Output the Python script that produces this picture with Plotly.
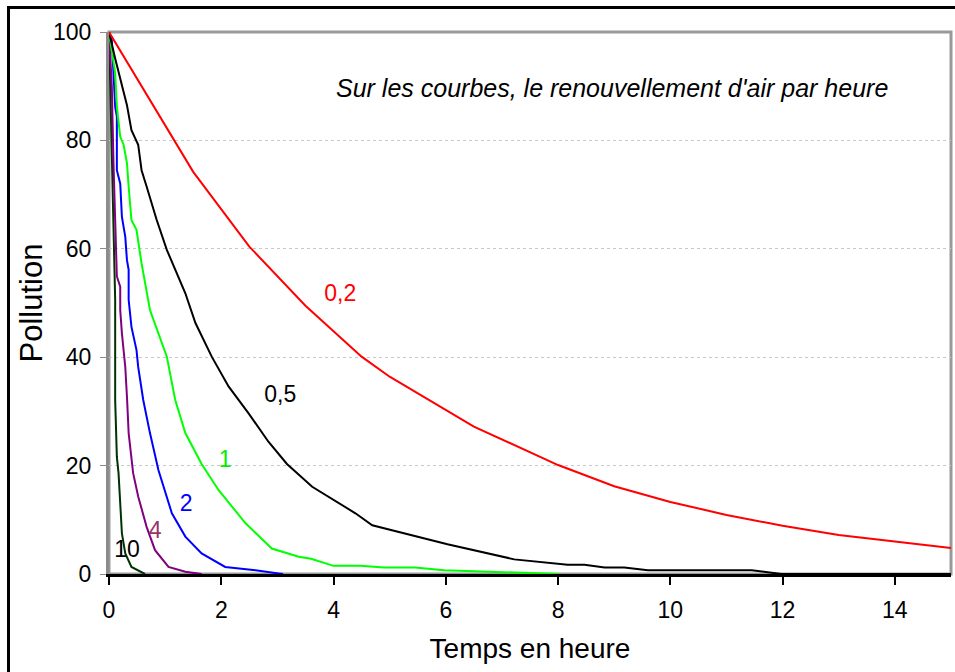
import plotly.graph_objects as go

# ---- data ----
red_t = [0, 1.5, 2.5, 3.5, 4.5, 5, 6.5, 8, 9, 10, 11, 12, 13, 14, 15]
red_v = [100, 74.2, 60.4, 49.5, 40.1, 36.4, 27.2, 20.1, 16.2, 13.3, 10.9, 8.9, 7.2, 6.0, 4.8]

black_t = [0, 0.11, 0.32, 0.4, 0.52, 0.58, 0.67, 0.85, 1.03, 1.18, 1.36, 1.54, 1.83, 2.13, 2.49,
           2.84, 3.17, 3.62, 4.1, 4.39, 4.69, 5.2, 6.03, 7.22, 8.17, 8.47, 8.83, 9.18, 9.6,
           11.45, 11.98, 15]
black_v = [100, 95.1, 86.5, 81.9, 79.2, 74.5, 71.5, 65.3, 59.8, 56.1, 51.8, 46.3, 40.1, 34.6, 29.6,
           24.4, 20.3, 16.1, 13.0, 11.2, 9.0, 7.7, 5.5, 2.7, 1.7, 1.7, 1.2, 1.2, 0.7,
           0.7, 0, 0]

green_t = [0, 0.11, 0.14, 0.2, 0.26, 0.32, 0.35, 0.4, 0.49, 0.58, 0.73, 0.88, 1.03, 1.18, 1.36,
           1.65, 1.95, 2.43, 2.9, 3.38, 3.6, 4.0, 4.48, 4.9, 5.45, 5.97, 8.0]
green_v = [100, 92.4, 86.2, 80.7, 79.2, 75.8, 71.5, 65.3, 63.5, 57.3, 48.7, 44.4, 40.1, 32.1, 26.0,
           20.3, 15.5, 9.4, 4.7, 3.2, 2.8, 1.5, 1.5, 1.2, 1.2, 0.7, 0]

blue_t = [0, 0.05, 0.11, 0.14, 0.14, 0.2, 0.23, 0.29, 0.32, 0.35, 0.35, 0.4, 0.49, 0.52, 0.61,
          0.73, 0.88, 1.12, 1.36, 1.65, 2.07, 2.61, 3.02, 3.1]
blue_v = [100, 98.5, 86.2, 84.4, 74.5, 72, 65.9, 62.2, 57.9, 56.1, 50.6, 45.6, 41.3, 38.2, 32.1,
          26.0, 19.2, 11.2, 6.9, 3.8, 1.3, 0.7, 0.1, 0]

purple_t = [0, 0.05, 0.08, 0.14, 0.2, 0.2, 0.23, 0.29, 0.32, 0.35, 0.43, 0.52, 0.67, 0.82, 1.06, 1.36, 1.65]
purple_v = [100, 90, 75.8, 54.9, 53, 48.7, 44.4, 38.2, 32.7, 26.0, 18.6, 14.3, 8.7, 4.4, 1.3, 0.4, 0]

dkgreen_t = [0, 0.04, 0.08, 0.11, 0.11, 0.14, 0.17, 0.2, 0.23, 0.29, 0.4, 0.64]
dkgreen_v = [100, 80, 60, 50.6, 32.1, 21.6, 18.6, 12.4, 7.5, 3.8, 1.3, 0]

curve_labels = ["0,2", "0,5", "1", "2", "4", "10"]
label_t = [4.12, 3.05, 2.07, 1.375, 0.82, 0.32]
label_v = [51.5, 32.8, 20.8, 12.7, 7.7, 4.2]
label_colors = ["#ff0000", "#000000", "#00ee00", "#0000ff", "#993366", "#000000"]

x_ticks = [0, 2, 4, 6, 8, 10, 12, 14]
y_ticks = [0, 20, 40, 60, 80, 100]

note = "Sur les courbes, le renouvellement d'air par heure"

FONT = "Liberation Sans, Arial, sans-serif"

fig = go.Figure()
series = [
    (dkgreen_t, dkgreen_v, "#003300"),
    (purple_t, purple_v, "#800080"),
    (blue_t, blue_v, "#0000ff"),
    (green_t, green_v, "#00ff00"),
    (black_t, black_v, "#000000"),
    (red_t, red_v, "#ff0000"),
]
for t, v, c in series:
    fig.add_trace(go.Scatter(x=t, y=v, mode="lines", line=dict(color=c, width=2),
                             showlegend=False, hoverinfo="skip"))

fig.add_trace(go.Scatter(x=label_t, y=label_v, mode="text", text=curve_labels,
                         textfont=dict(family=FONT, size=23, color=label_colors),
                         showlegend=False, hoverinfo="skip"))

L, R, T, B = 109, 4, 32, 98
W, H = 955, 672
pw, ph = W - L - R, H - T - B

shapes = [
    # plot area border (top/right gray)
    dict(type="rect", xref="paper", yref="paper", x0=0, x1=1, y0=0, y1=1,
         line=dict(color="#999999", width=3), layer="below"),
    # outer chart border
    dict(type="rect", xref="paper", yref="paper",
         x0=(8.5 - L) / pw, x1=(W + 20 - L) / pw,
         y0=-(H + 20 - T - ph) / ph, y1=(T + ph - 7.5) / ph,
         line=dict(color="#000000", width=3)),
]

fig.update_layout(
    width=W, height=H,
    margin=dict(l=L, r=R, t=T, b=B, pad=0),
    paper_bgcolor="white", plot_bgcolor="white",
    font=dict(family=FONT, size=22, color="#000000"),
    shapes=shapes,
    annotations=[dict(x=(612 - L) / pw, y=(T + ph - 72) / ph, xref="x domain", yref="y domain",
                      text=f"<i>{note}</i>", showarrow=False,
                      font=dict(family=FONT, size=25, color="#000000"))],
    xaxis=dict(range=[0, 15], tickvals=x_ticks, ticktext=[str(v) for v in x_ticks],
               showgrid=False, zeroline=False, showline=True, linecolor="#000000", linewidth=3,
               ticks="outside", ticklen=8, tickwidth=2, tickcolor="#000000",
               tickfont=dict(family=FONT, size=23), ticklabelstandoff=5,
               title=dict(text="Temps en heure", font=dict(family=FONT, size=28), standoff=17)),
    yaxis=dict(range=[0, 100], tickvals=y_ticks, ticktext=[str(v) for v in y_ticks],
               showgrid=True, gridcolor="#c8c8c8", griddash="dot", gridwidth=1,
               zeroline=False, showline=True, linecolor="#8c8c8c", linewidth=3,
               ticks="outside", ticklen=6, tickwidth=1, tickcolor="#8c8c8c",
               tickfont=dict(family=FONT, size=23), ticklabelstandoff=4,
               title=dict(text="Pollution", font=dict(family=FONT, size=31), standoff=2)),
)

fig.write_html("out.html", config={"displayModeBar": False},
               post_script="document.body.style.margin='0';document.body.style.overflow='hidden';")
